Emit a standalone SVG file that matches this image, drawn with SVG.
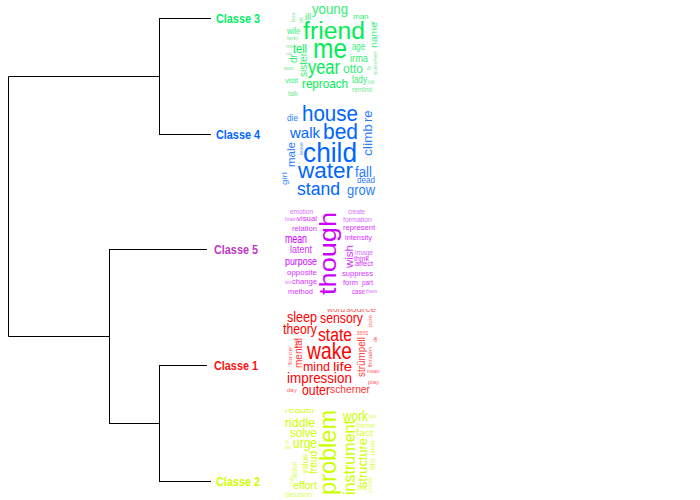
<svg xmlns="http://www.w3.org/2000/svg" width="700" height="500" viewBox="0 0 700 500">
<style>
.ln{stroke:#000;stroke-width:1;fill:none}
.lab{font-family:"Liberation Sans",Arial,sans-serif;font-weight:bold;font-size:12px}
.w{font-family:"Liberation Sans",Arial,sans-serif}
.c3a{fill:#00EE55}.c3b{fill:#33EE77}.c3c{fill:#70E890}
.c4a{fill:#0066FF}.c4b{fill:#2A7BFF}.c4c{fill:#5A95FF}
.c5a{fill:#CC00FF}.c5b{fill:#D633FF}.c5c{fill:#D870FF}
.c1a{fill:#FF0000}.c1b{fill:#FF3333}.c1c{fill:#FF6060}
.c2a{fill:#CCFF00}.c2b{fill:#D5FF33}.c2c{fill:#DAFF5A}
</style>
<defs>
<clipPath id="k3"><rect x="280" y="6" width="100" height="94"/></clipPath>
<clipPath id="k4"><rect x="280" y="104" width="100" height="96"/></clipPath>
<clipPath id="k5"><rect x="280" y="204" width="100" height="98"/></clipPath>
<clipPath id="k1"><rect x="280" y="309" width="100" height="92"/></clipPath>
<clipPath id="k2"><rect x="280" y="409" width="100" height="91"/></clipPath>
</defs>
<rect width="700" height="500" fill="#fff"/>
<g id="connectors">
<path class="ln" d="M159,18.5H211M159,134.5H211M159.5,18.5V134.5"/>
<path class="ln" d="M8.5,76.5H159M8.5,76.5V336.5M8.5,336.5H109"/>
<path class="ln" d="M109.5,249.5V423.5M109,249.5H207M109,423.5H159"/>
<path class="ln" d="M159.5,365.5V481.5M159,365.5H207M159,481.5H211"/>
</g>
<g id="classe3"><text class="lab" x="216" y="23" fill="#00EE66" textLength="44" lengthAdjust="spacingAndGlyphs">Classe 3</text></g>
<g id="classe4"><text class="lab" x="216" y="139" fill="#0066FF" textLength="44" lengthAdjust="spacingAndGlyphs">Classe 4</text></g>
<g id="classe5"><text class="lab" x="214" y="254" fill="#C038C8" textLength="44" lengthAdjust="spacingAndGlyphs">Classe 5</text></g>
<g id="classe1"><text class="lab" x="214" y="370" fill="#FF1010" textLength="44" lengthAdjust="spacingAndGlyphs">Classe 1</text></g>
<g id="classe2"><text class="lab" x="216" y="486" fill="#CCFF00" textLength="44" lengthAdjust="spacingAndGlyphs">Classe 2</text></g>

<g id="cloud3" class="w" clip-path="url(#k3)">
<text class="c3c" font-size="6" transform="translate(295,22) rotate(-90)">box</text>
<text class="c3c" font-size="6" transform="translate(303,23) rotate(-90)">sit</text>
<text class="c3b" font-size="9" x="305" y="20">ill</text>
<text class="c3b" font-size="15" x="312" y="14" textLength="36" lengthAdjust="spacingAndGlyphs">young</text>
<text class="c3b" font-size="8" x="353" y="19">man</text>
<text class="c3c" font-size="4" transform="translate(374,25) rotate(-90)">all</text>
<text class="c3b" font-size="9" x="287" y="34" textLength="13" lengthAdjust="spacingAndGlyphs">wife</text>
<text class="c3a" font-size="23" x="303" y="39" textLength="62" lengthAdjust="spacingAndGlyphs">friend</text>
<text class="c3c" font-size="5" x="287" y="40" textLength="11" lengthAdjust="spacingAndGlyphs">berlin</text>
<text class="c3b" font-size="9" transform="translate(377,48) rotate(-90)" textLength="26" lengthAdjust="spacingAndGlyphs">name</text>
<text class="c3c" font-size="6" x="286" y="48">mt</text>
<text class="c3c" font-size="4" x="286" y="55">nd</text>
<text class="c3a" font-size="13" x="293" y="53" textLength="14" lengthAdjust="spacingAndGlyphs">tell</text>
<text class="c3a" font-size="28" x="313" y="58" textLength="34" lengthAdjust="spacingAndGlyphs">me</text>
<text class="c3b" font-size="10" x="352" y="50" textLength="13" lengthAdjust="spacingAndGlyphs">age</text>
<text class="c3b" font-size="10" transform="translate(297,63) rotate(-90)">dr</text>
<text class="c3b" font-size="10" transform="translate(307,77) rotate(-90)" textLength="24" lengthAdjust="spacingAndGlyphs">sister</text>
<text class="c3b" font-size="11" x="350" y="62" textLength="18" lengthAdjust="spacingAndGlyphs">irma</text>
<text class="c3c" font-size="6" x="284" y="70">son</text>
<text class="c3a" font-size="20" x="308" y="74" textLength="32" lengthAdjust="spacingAndGlyphs">year</text>
<text class="c3b" font-size="13" x="343" y="73" textLength="20" lengthAdjust="spacingAndGlyphs">otto</text>
<text class="c3c" font-size="6" transform="translate(377,75) rotate(-90)" textLength="24" lengthAdjust="spacingAndGlyphs">summer</text>
<text class="c3c" font-size="5" transform="translate(371,70) rotate(-90)">fit</text>
<text class="c3b" font-size="7" x="285" y="83" textLength="13" lengthAdjust="spacingAndGlyphs">visit</text>
<text class="c3b" font-size="10" x="352" y="83" textLength="15" lengthAdjust="spacingAndGlyphs">lady</text>
<text class="c3c" font-size="5" x="368" y="84">hill</text>
<text class="c3a" font-size="13" x="302" y="88" textLength="46" lengthAdjust="spacingAndGlyphs">reproach</text>
<text class="c3c" font-size="8" x="352" y="92" textLength="20" lengthAdjust="spacingAndGlyphs">remind</text>
<text class="c3c" font-size="7" x="288" y="96" textLength="10" lengthAdjust="spacingAndGlyphs">talk</text>
</g>

<g id="cloud4" class="w" clip-path="url(#k4)">
<text class="c4a" font-size="22" x="302" y="121" textLength="56" lengthAdjust="spacingAndGlyphs">house</text>
<text class="c4b" font-size="9" x="287" y="121" textLength="11" lengthAdjust="spacingAndGlyphs">die</text>
<text class="c4b" font-size="13" transform="translate(372,122) rotate(-90)">re</text>
<text class="c4b" font-size="13" transform="translate(372,156) rotate(-90)" textLength="32" lengthAdjust="spacingAndGlyphs">climb</text>
<text class="c4a" font-size="15" x="290" y="138" textLength="30" lengthAdjust="spacingAndGlyphs">walk</text>
<text class="c4a" font-size="22" x="323" y="139" textLength="35" lengthAdjust="spacingAndGlyphs">bed</text>
<text class="c4b" font-size="11" transform="translate(295,167) rotate(-90)" textLength="25" lengthAdjust="spacingAndGlyphs">male</text>
<text class="c4c" font-size="5" transform="translate(303,155) rotate(-90)" textLength="13" lengthAdjust="spacingAndGlyphs">leave</text>
<text class="c4a" font-size="28" x="303" y="162" textLength="54" lengthAdjust="spacingAndGlyphs">child</text>
<text class="c4a" font-size="22" x="298" y="178" textLength="55" lengthAdjust="spacingAndGlyphs">water</text>
<text class="c4b" font-size="14" x="355" y="177" textLength="17" lengthAdjust="spacingAndGlyphs">fall</text>
<text class="c4b" font-size="8" transform="translate(287,185) rotate(-90)" textLength="13" lengthAdjust="spacingAndGlyphs">girl</text>
<text class="c4b" font-size="8.5" x="357" y="183" textLength="18" lengthAdjust="spacingAndGlyphs">dead</text>
<text class="c4a" font-size="18" x="297" y="195" textLength="43" lengthAdjust="spacingAndGlyphs">stand</text>
<text class="c4b" font-size="14" x="347" y="195" textLength="28" lengthAdjust="spacingAndGlyphs">grow</text>
</g>

<g id="cloud5" class="w" clip-path="url(#k5)">
<text class="c5c" font-size="7" x="290" y="214" textLength="23" lengthAdjust="spacingAndGlyphs">emotion</text>
<text class="c5c" font-size="7" x="348" y="214" textLength="17" lengthAdjust="spacingAndGlyphs">create</text>
<text class="c5c" font-size="5" x="285" y="221" textLength="12" lengthAdjust="spacingAndGlyphs">brain</text>
<text class="c5b" font-size="8" x="297" y="221" textLength="20" lengthAdjust="spacingAndGlyphs">visual</text>
<text class="c5c" font-size="8" x="343" y="222" textLength="29" lengthAdjust="spacingAndGlyphs">formation</text>
<text class="c5b" font-size="8" x="292" y="231" textLength="25" lengthAdjust="spacingAndGlyphs">relation</text>
<text class="c5b" font-size="8" x="343" y="230" textLength="32" lengthAdjust="spacingAndGlyphs">represent</text>
<text class="c5a" font-size="24" transform="translate(336,295) rotate(-90)" textLength="83" lengthAdjust="spacingAndGlyphs">though</text>
<text class="c5b" font-size="8" x="345" y="240" textLength="27" lengthAdjust="spacingAndGlyphs">intensity</text>
<text class="c5a" font-size="13" x="285" y="243" textLength="22" lengthAdjust="spacingAndGlyphs">mean</text>
<text class="c5b" font-size="10" x="290" y="253" textLength="22" lengthAdjust="spacingAndGlyphs">latent</text>
<text class="c5b" font-size="10" transform="translate(353,268) rotate(-90)" textLength="23" lengthAdjust="spacingAndGlyphs">wish</text>
<text class="c5c" font-size="7" x="355" y="255" textLength="18" lengthAdjust="spacingAndGlyphs">image</text>
<text class="c5b" font-size="7" x="354" y="260.5" textLength="15" lengthAdjust="spacingAndGlyphs">think</text>
<text class="c5b" font-size="7" x="355" y="266" textLength="18" lengthAdjust="spacingAndGlyphs">affect</text>
<text class="c5a" font-size="11" x="285" y="265" textLength="32" lengthAdjust="spacingAndGlyphs">purpose</text>
<text class="c5b" font-size="8" x="287" y="275" textLength="30" lengthAdjust="spacingAndGlyphs">opposite</text>
<text class="c5b" font-size="8" x="342" y="276" textLength="31" lengthAdjust="spacingAndGlyphs">suppress</text>
<text class="c5c" font-size="5" x="285" y="284">sin</text>
<text class="c5b" font-size="8" x="292" y="284" textLength="25" lengthAdjust="spacingAndGlyphs">change</text>
<text class="c5b" font-size="8" x="343" y="285" textLength="15" lengthAdjust="spacingAndGlyphs">form</text>
<text class="c5b" font-size="7" x="362" y="285" textLength="11" lengthAdjust="spacingAndGlyphs">part</text>
<text class="c5b" font-size="8" x="288" y="294" textLength="25" lengthAdjust="spacingAndGlyphs">method</text>
<text class="c5b" font-size="8" x="352" y="294" textLength="13" lengthAdjust="spacingAndGlyphs">case</text>
<text class="c5c" font-size="5" x="366" y="293" textLength="11" lengthAdjust="spacingAndGlyphs">thesis</text>
</g>

<g id="cloud1" class="w" clip-path="url(#k1)">
<text class="c1c" font-size="9" x="327" y="312" textLength="18" lengthAdjust="spacingAndGlyphs">word</text>
<text class="c1c" font-size="9" x="346" y="312" textLength="30" lengthAdjust="spacingAndGlyphs">source</text>
<text class="c1a" font-size="14" x="287" y="322" textLength="30" lengthAdjust="spacingAndGlyphs">sleep</text>
<text class="c1a" font-size="14" x="320" y="323" textLength="43" lengthAdjust="spacingAndGlyphs">sensory</text>
<text class="c1c" font-size="6" transform="translate(372,327) rotate(-90)">pure</text>
<text class="c1a" font-size="14" x="283" y="334" textLength="34" lengthAdjust="spacingAndGlyphs">theory</text>
<text class="c1a" font-size="18" x="318" y="341" textLength="34" lengthAdjust="spacingAndGlyphs">state</text>
<text class="c1c" font-size="7" x="357" y="335" textLength="11" lengthAdjust="spacingAndGlyphs">sens</text>
<text class="c1c" font-size="6" transform="translate(298,348) rotate(-90)">law</text>
<text class="c1c" font-size="6" transform="translate(292,365) rotate(-90)" textLength="18" lengthAdjust="spacingAndGlyphs">force</text>
<text class="c1b" font-size="10" transform="translate(302,368) rotate(-90)" textLength="30" lengthAdjust="spacingAndGlyphs">mental</text>
<text class="c1a" font-size="24" x="307" y="359" textLength="45" lengthAdjust="spacingAndGlyphs">wake</text>
<text class="c1b" font-size="10" transform="translate(365,377) rotate(-90)" textLength="40" lengthAdjust="spacingAndGlyphs">strümpell</text>
<text class="c1c" font-size="5" transform="translate(377,342) rotate(-90)">de</text>
<text class="c1c" font-size="6" transform="translate(372,367) rotate(-90)" textLength="20" lengthAdjust="spacingAndGlyphs">brain</text>
<text class="c1a" font-size="13" x="303" y="371" textLength="27" lengthAdjust="spacingAndGlyphs">mind</text>
<text class="c1a" font-size="13" x="333" y="371" textLength="19" lengthAdjust="spacingAndGlyphs">life</text>
<text class="c1c" font-size="5" x="367" y="373">mean</text>
<text class="c1a" font-size="15" x="287" y="383" textLength="65" lengthAdjust="spacingAndGlyphs">impression</text>
<text class="c1c" font-size="6" x="368" y="384">play</text>
<text class="c1c" font-size="6" x="287" y="392">day</text>
<text class="c1a" font-size="14" x="302" y="395" textLength="28" lengthAdjust="spacingAndGlyphs">outer</text>
<text class="c1b" font-size="11" x="330" y="393" textLength="40" lengthAdjust="spacingAndGlyphs">scherner</text>
</g>

<g id="cloud2" class="w" clip-path="url(#k2)">
<text class="c2b" font-size="12" x="285" y="413" textLength="30" lengthAdjust="spacingAndGlyphs">reader</text>
<text class="c2a" font-size="13" x="285" y="427" textLength="30" lengthAdjust="spacingAndGlyphs">riddle</text>
<text class="c2a" font-size="13" x="290" y="437" textLength="27" lengthAdjust="spacingAndGlyphs">solve</text>
<text class="c2a" font-size="24" transform="translate(336,495) rotate(-90)" textLength="85" lengthAdjust="spacingAndGlyphs">problem</text>
<text class="c2a" font-size="14" x="343" y="421" textLength="25" lengthAdjust="spacingAndGlyphs">work</text>
<text class="c2c" font-size="5" x="369" y="418">law</text>
<text class="c2a" font-size="16" transform="translate(355,495) rotate(-90)" textLength="75" lengthAdjust="spacingAndGlyphs">instrument</text>
<text class="c2c" font-size="7" x="356" y="428" textLength="19" lengthAdjust="spacingAndGlyphs">theme</text>
<text class="c2b" font-size="9" x="356" y="436" textLength="17" lengthAdjust="spacingAndGlyphs">fact</text>
<text class="c2c" font-size="5" x="285" y="444">fit</text>
<text class="c2c" font-size="5" x="285" y="449">far</text>
<text class="c2a" font-size="14" x="293" y="448" textLength="24" lengthAdjust="spacingAndGlyphs">urge</text>
<text class="c2a" font-size="12" transform="translate(367,488) rotate(-90)" textLength="50" lengthAdjust="spacingAndGlyphs">structure</text>
<text class="c2c" font-size="7" transform="translate(375,470) rotate(-90)" textLength="30" lengthAdjust="spacingAndGlyphs">life due</text>
<text class="c2a" font-size="11" transform="translate(317,474) rotate(-90)" textLength="23" lengthAdjust="spacingAndGlyphs">freud</text>
<text class="c2b" font-size="9" transform="translate(308,474) rotate(-90)" textLength="20" lengthAdjust="spacingAndGlyphs">value</text>
<text class="c2b" font-size="7" transform="translate(297,478) rotate(-90)" textLength="16" lengthAdjust="spacingAndGlyphs">action</text>
<text class="c2c" font-size="6" transform="translate(372,493) rotate(-90)" textLength="16" lengthAdjust="spacingAndGlyphs">credit</text>
<text class="c2c" font-size="5" transform="translate(293,484) rotate(-90)">can</text>
<text class="c2a" font-size="11" x="293" y="489" textLength="24" lengthAdjust="spacingAndGlyphs">effort</text>
<text class="c2b" font-size="8" x="357" y="490" textLength="10" lengthAdjust="spacingAndGlyphs">link</text>
<text class="c2c" font-size="8" x="285" y="497" textLength="27" lengthAdjust="spacingAndGlyphs">delusion</text>
</g>
</svg>
